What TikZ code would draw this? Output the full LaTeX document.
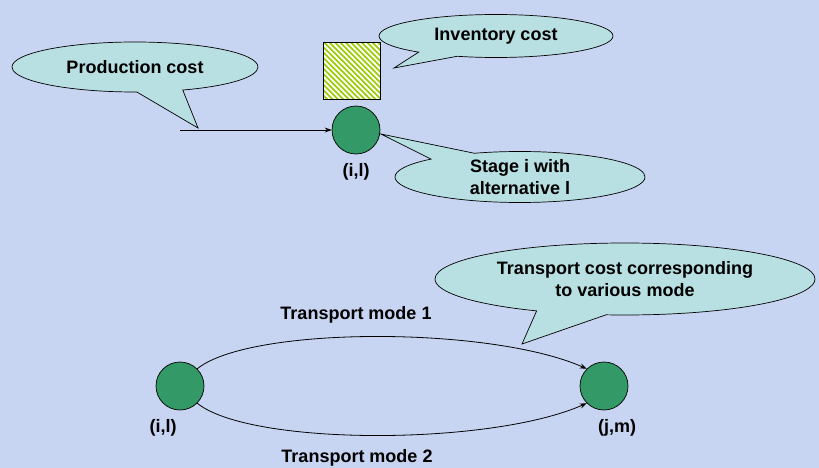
\documentclass[tikz,border=0pt]{standalone}
\usepackage{fontspec}
\setmainfont{Liberation Sans}
\usetikzlibrary{shapes.callouts,shapes.geometric,patterns.meta,arrows.meta}

\definecolor{bgblue}{RGB}{200,213,242}
\definecolor{callfill}{RGB}{184,224,226}
\definecolor{nodegreen}{RGB}{51,153,102}
\definecolor{hatchgreen}{RGB}{153,204,0}

\tikzset{
  lbl/.style={font=\bfseries\fontsize{18}{22.5}\selectfont, inner sep=0pt, align=center},
  bubble/.style={shape=ellipse callout, draw=black, line width=0.7pt, fill=callfill,
                 font=\bfseries\fontsize{18}{22.5}\selectfont, align=center, inner sep=0pt},
  stagenode/.style={circle, draw=black, line width=0.7pt, fill=nodegreen,
                    minimum size=48pt, inner sep=0pt},
  conn/.style={line width=0.8pt, -{Stealth[length=7pt,width=5pt]}}
}

\begin{document}
\begin{tikzpicture}[x=1pt,y=-1pt]
  % canvas
  \fill[bgblue] (0,0) rectangle (819,468);
  \useasboundingbox (0,0) rectangle (819,468);

  % upper part: one stage with its costs
  \node[stagenode] (stA) at (356,130) {};
  \node[lbl] (stAlbl) at (356,172) {(i,l)};
  \node[draw=black, line width=0.7pt, minimum width=57pt, minimum height=57pt, inner sep=0pt,
        fill=hatchgreen,
        postaction={pattern={Lines[angle=-45,distance=3.8pt,line width=1.9pt]}, pattern color=white}]
        (inv) at (352,71) {};
  \node[draw=black, line width=0.7pt, minimum width=57pt, minimum height=57pt, inner sep=0pt]
        (invframe) at (352,71) {};

  \coordinate (prodstart) at (180,130);
  \draw[conn] (prodstart) -- (stA.west);

  \node[bubble, minimum width=246pt, minimum height=50pt,
        callout absolute pointer={(198,128)}, callout pointer arc=22]
        (prodcost) at (135,67) {Production cost};
  \node[bubble, minimum width=234pt, minimum height=43pt,
        callout absolute pointer={(394,68)}, callout pointer arc=22]
        (invcost) at (496,36) {Inventory cost};
  \node[bubble, minimum width=250pt, minimum height=51pt,
        callout absolute pointer={(381,134)}, callout pointer arc=24]
        (stagecost) at (520,177) {Stage i with\\alternative l};

  % lower part: two stages linked by two transport modes
  \node[stagenode] (stL) at (180,386) {};
  \node[stagenode] (stR) at (604,386) {};
  \node[lbl] (stLlbl) at (163,428) {(i,l)};
  \node[lbl] (stRlbl) at (617,428) {(j,m)};

  \draw[conn] (stL.45) .. controls (250,326) and (490,326) .. (stR.135);
  \draw[conn] (stL.-45) .. controls (250,446) and (490,446) .. (stR.-135);

  \node[lbl] (mode1) at (356,315) {Transport mode 1};
  \node[lbl] (mode2) at (357,458) {Transport mode 2};

  \node[bubble, minimum width=380pt, minimum height=72pt,
        callout absolute pointer={(522,344)}, callout pointer arc=22]
        (transcost) at (625,279) {Transport cost corresponding\\to various mode};
\end{tikzpicture}
\end{document}
